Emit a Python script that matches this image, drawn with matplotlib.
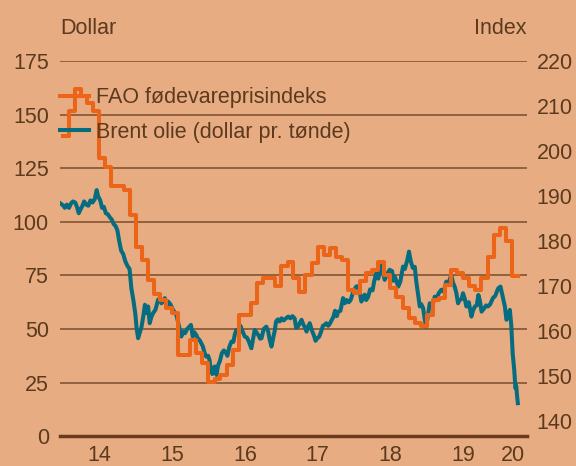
import matplotlib
matplotlib.use("Agg")
import matplotlib.pyplot as plt
import pandas as pd

# FAO food price index, monthly (right axis)
fao_start = "2014-01-01"
fao_values = [
    203.3, 208.8, 213.8, 212.2, 210.7, 209.0, 198.5, 196.5, 192.3, 192.2, 191.4, 185.9,  # 2014
    178.8, 175.9, 171.4, 168.3, 167.0, 165.2, 164.0, 154.8, 154.8, 158.1, 155.2, 152.9,  # 2015
    148.8, 149.5, 150.3, 152.6, 155.9, 163.7, 163.7, 166.3, 170.7, 171.8, 171.8, 170.0,  # 2016
    174.4, 175.5, 171.8, 168.8, 172.6, 175.2, 178.8, 177.0, 178.5, 176.6, 175.9, 169.2,  # 2017
    168.5, 171.1, 172.9, 173.7, 175.5, 172.6, 169.6, 167.7, 165.2, 162.9, 161.8, 161.1,  # 2018
    163.7, 167.0, 167.4, 170.3, 173.7, 172.9, 171.8, 170.0, 169.2, 171.8, 176.6, 181.4,  # 2019
    182.9, 180.0, 172.2,                                                                  # 2020
]

# Brent oil, dollar per barrel (left axis)
brent_dates = [
    "2013-12-20", "2014-01-03", "2014-01-10", "2014-01-20", "2014-01-31", "2014-02-10", "2014-02-20",
    "2014-03-03", "2014-03-12", "2014-03-21", "2014-03-31", "2014-04-09", "2014-04-17", "2014-04-28",
    "2014-05-08", "2014-05-19", "2014-05-29", "2014-06-09", "2014-06-19", "2014-06-26", "2014-07-07",
    "2014-07-16", "2014-07-25", "2014-08-04", "2014-08-14", "2014-08-25", "2014-09-03", "2014-09-12",
    "2014-09-22", "2014-10-01", "2014-10-10", "2014-10-20", "2014-10-30", "2014-11-10", "2014-11-20",
    "2014-12-01", "2014-12-10", "2014-12-20", "2014-12-30", "2015-01-05", "2015-01-13", "2015-01-22",
    "2015-01-30", "2015-02-08", "2015-02-16", "2015-02-24", "2015-03-04", "2015-03-12", "2015-03-20",
    "2015-03-29", "2015-04-10", "2015-04-23", "2015-05-01", "2015-05-10", "2015-05-27", "2015-06-04",
    "2015-06-12", "2015-06-24", "2015-07-07", "2015-07-24", "2015-08-03", "2015-08-10", "2015-08-18",
    "2015-08-26", "2015-09-05", "2015-09-16", "2015-09-27", "2015-10-05", "2015-10-14", "2015-10-22",
    "2015-10-31", "2015-11-09", "2015-11-17", "2015-11-25", "2015-12-04", "2015-12-12", "2015-12-21",
    "2015-12-30", "2016-01-06", "2016-01-12", "2016-01-20", "2016-01-27", "2016-02-02", "2016-02-10",
    "2016-02-18", "2016-02-27", "2016-03-08", "2016-03-18", "2016-03-28", "2016-04-05", "2016-04-14",
    "2016-04-25", "2016-05-05", "2016-05-12", "2016-05-20", "2016-06-01", "2016-06-09", "2016-06-15",
    "2016-06-24", "2016-07-01", "2016-07-12", "2016-07-22", "2016-08-03", "2016-08-12", "2016-08-20",
    "2016-08-28", "2016-09-08", "2016-09-16", "2016-09-23", "2016-10-04", "2016-10-17", "2016-10-26",
    "2016-11-03", "2016-11-12", "2016-11-21", "2016-11-28", "2016-12-05", "2016-12-14", "2016-12-23",
    "2017-01-01", "2017-01-12", "2017-01-24", "2017-02-04", "2017-02-15", "2017-02-25", "2017-03-08",
    "2017-03-16", "2017-03-25", "2017-04-04", "2017-04-12", "2017-04-21", "2017-04-28", "2017-05-07",
    "2017-05-15", "2017-05-23", "2017-06-02", "2017-06-13", "2017-06-21", "2017-06-28", "2017-07-10",
    "2017-07-19", "2017-07-28", "2017-08-07", "2017-08-14", "2017-08-24", "2017-09-01", "2017-09-09",
    "2017-09-18", "2017-09-27", "2017-10-06", "2017-10-12", "2017-10-24", "2017-11-06", "2017-11-15",
    "2017-11-24", "2017-12-05", "2017-12-14", "2017-12-28", "2018-01-11", "2018-01-24", "2018-02-06",
    "2018-02-15", "2018-02-23", "2018-03-02", "2018-03-12", "2018-03-22", "2018-04-03", "2018-04-12",
    "2018-04-22", "2018-05-02", "2018-05-10", "2018-05-17", "2018-05-25", "2018-06-03", "2018-06-14",
    "2018-06-28", "2018-07-10", "2018-07-17", "2018-07-23", "2018-08-02", "2018-08-10", "2018-08-20",
    "2018-08-29", "2018-09-03", "2018-09-12", "2018-09-24", "2018-10-03", "2018-10-12", "2018-10-22",
    "2018-11-01", "2018-11-08", "2018-11-16", "2018-11-26", "2018-12-04", "2018-12-13", "2018-12-20",
    "2018-12-28", "2019-01-08", "2019-01-15", "2019-01-28", "2019-02-09", "2019-02-18", "2019-02-28",
    "2019-03-14", "2019-03-26", "2019-04-08", "2019-04-18", "2019-05-03", "2019-05-12", "2019-05-20",
    "2019-05-28", "2019-06-06", "2019-06-14", "2019-06-24", "2019-07-01", "2019-07-10", "2019-07-18",
    "2019-07-30", "2019-08-12", "2019-08-20", "2019-08-29", "2019-09-08", "2019-09-16", "2019-09-24",
    "2019-10-02", "2019-10-14", "2019-10-25", "2019-11-03", "2019-11-14", "2019-11-28", "2019-12-10",
    "2019-12-24", "2020-01-05", "2020-01-15", "2020-01-27", "2020-02-04", "2020-02-12", "2020-02-21",
    "2020-02-28", "2020-03-06", "2020-03-10", "2020-03-14", "2020-03-20", "2020-03-24", "2020-03-28",
    "2020-04-01",
]
brent_values = [
    108.5, 107.5, 106.5, 108.0, 106.5, 108.5, 109.5,
    109.0, 107.0, 104.0, 106.0, 107.5, 109.5, 108.0,
    107.5, 110.0, 109.0, 110.5, 114.8, 112.0, 110.0,
    106.5, 107.0, 104.0, 103.5, 102.0, 101.0, 99.0,
    98.0, 96.0, 91.0, 86.5, 85.0, 81.5, 79.5,
    78.0, 69.0, 63.5, 57.0, 50.5, 45.7, 48.5,
    51.0, 56.0, 61.3, 57.4, 60.5, 52.7, 55.5,
    57.4, 59.0, 63.6, 64.4, 62.0, 64.4, 60.5,
    62.8, 61.5, 58.9, 56.6, 52.5, 49.6, 46.5,
    48.8, 48.0, 50.0, 51.1, 51.9, 46.5, 48.5,
    47.3, 45.5, 44.9, 43.5, 41.8, 39.0, 37.1,
    37.5, 35.6, 31.5, 29.0, 32.0, 32.5, 28.6,
    33.0, 35.0, 38.7, 40.0, 39.0, 37.5, 41.5,
    44.1, 44.0, 47.5, 49.6, 49.0, 51.5, 50.0,
    48.0, 46.5, 46.0, 44.0, 41.0, 45.5, 49.6,
    48.5, 47.0, 45.5, 45.7, 50.0, 51.1, 49.0,
    45.0, 41.8, 46.0, 49.0, 53.5, 54.5, 53.5,
    55.0, 54.0, 55.0, 55.8, 55.0, 56.0, 55.0,
    50.5, 51.1, 53.0, 54.3, 52.0, 51.0, 48.8,
    51.0, 52.7, 49.5, 47.0, 44.5, 45.5, 46.5,
    48.8, 51.5, 52.0, 52.7, 51.5, 52.5, 54.0,
    55.5, 58.5, 56.0, 58.0, 58.5, 64.4, 62.0,
    63.5, 62.5, 63.5, 67.5, 69.8, 70.0, 62.8,
    65.0, 66.0, 63.5, 65.0, 68.5, 68.0, 72.5,
    76.0, 73.5, 77.5, 79.9, 76.5, 72.9, 75.5,
    77.6, 77.0, 72.5, 74.5, 72.0, 69.8, 72.0,
    76.5, 79.1, 78.0, 82.0, 86.1, 81.5, 78.5,
    79.0, 72.5, 67.0, 60.5, 61.5, 59.7, 55.0,
    51.1, 57.5, 62.0, 60.5, 65.1, 64.0, 66.5,
    68.3, 67.5, 72.1, 71.0, 75.3, 71.5, 69.8,
    67.0, 62.0, 63.5, 64.0, 66.7, 64.0, 60.5,
    62.5, 55.8, 58.5, 60.5, 61.0, 65.9, 63.0,
    58.1, 59.5, 61.0, 60.5, 61.5, 64.4, 65.5,
    68.9, 69.8, 65.5, 60.5, 54.3, 56.0, 58.9,
    51.9, 38.7, 35.0, 30.9, 22.4, 23.5, 19.0,
    15.4,
]

year_labels = ["14", "15", "16", "17", "18", "19", "20"]
dollar_ticks = [0, 25, 50, 75, 100, 125, 150, 175]
index_ticks = [140, 150, 160, 170, 180, 190, 200, 210, 220]

bg = "#E7AC82"
txt = "#5C3A1E"
orange = "#EB6418"
teal = "#066C80"

plt.rcParams["font.family"] = ["Liberation Sans", "DejaVu Sans"]
fs = 15.5

fig = plt.figure(figsize=(5.76, 4.66), dpi=100, facecolor=bg)
ax = fig.add_axes([60 / 576, 1 - 436.2 / 466, 467 / 576, 375.2 / 466])
ax.set_facecolor(bg)
ax2 = ax.twinx()

b_dates = pd.to_datetime(brent_dates)
f_dates = pd.date_range(fao_start, periods=len(fao_values) + 1, freq="MS")
f_vals = fao_values + [fao_values[-1]]

lb, = ax.plot(b_dates, brent_values, color=teal, lw=2.9, solid_joinstyle="round")
lf, = ax2.step(f_dates, f_vals, where="post", color=orange, lw=2.9)

ax.set_ylim(0, 175)
ax2.set_ylim(136.73, 220)
ax.set_yticks(dollar_ticks)
ax2.set_yticks(index_ticks)

x0 = pd.Timestamp("2013-12-17")
x1 = pd.Timestamp("2020-05-17")
ax.set_xlim(x0, x1)
tick_pos = [pd.Timestamp(f"20{y}-07-02") for y in year_labels[:-1]]
tick_pos.append(pd.Timestamp("2020-01-01") + (x1 - pd.Timestamp("2020-01-01")) / 2)
ax.set_xticks(tick_pos)
ax.set_xticklabels(year_labels)

ax.grid(axis="y", color="#7A4E2C", lw=1.1)
ax.set_axisbelow(True)
for a in (ax, ax2):
    for s in a.spines.values():
        s.set_visible(False)
ax.spines["bottom"].set_visible(True)
ax.spines["bottom"].set_color("#6B3A1A")
ax.spines["bottom"].set_linewidth(2.5)
ax.spines["bottom"].set_zorder(5)

ax.tick_params(axis="y", length=0, pad=8, labelsize=fs, labelcolor=txt)
ax2.tick_params(axis="y", length=0, pad=7, labelsize=fs, labelcolor=txt)
ax.tick_params(axis="x", length=0, pad=6.5, labelsize=fs, labelcolor=txt)

fig.text(60 / 576, 1 - 28 / 466, "Dollar", ha="left", va="center", fontsize=fs, color=txt)
fig.text(527 / 576, 1 - 28 / 466, "Index", ha="right", va="center", fontsize=fs, color=txt)

leg = ax2.legend([lf, lb], ["FAO fødevareprisindeks", "Brent olie (dollar pr. tønde)"],
                 loc="upper left", bbox_to_anchor=(0.0, 0.93), frameon=False,
                 fontsize=fs, handlelength=1.35, handletextpad=0.3, labelspacing=0.62,
                 borderpad=0, borderaxespad=0)
for t in leg.get_texts():
    t.set_color(txt)

fig.savefig("out.png", dpi=100, facecolor=bg)
